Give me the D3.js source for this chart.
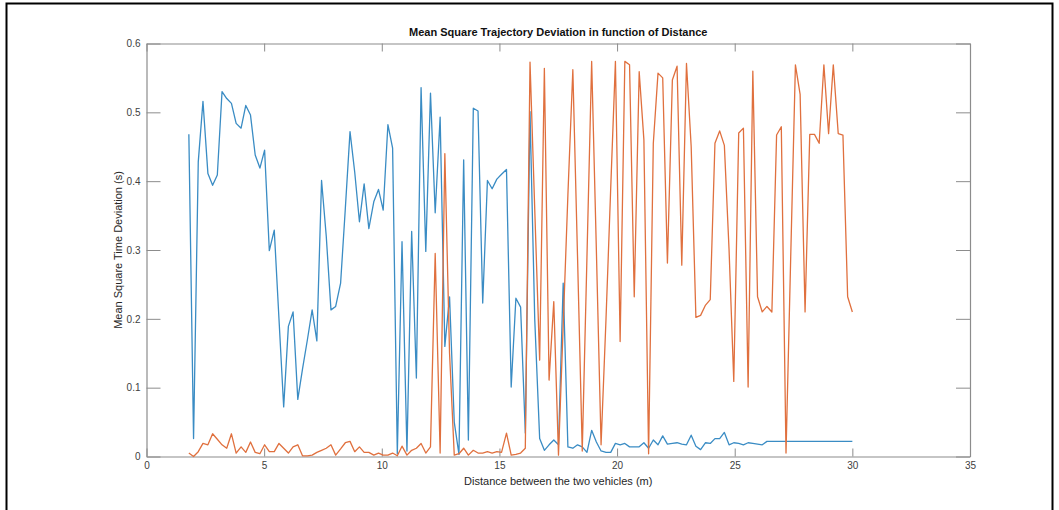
<!DOCTYPE html>
<html><head><meta charset="utf-8">
<script src="https://cdn.jsdelivr.net/npm/d3@7"></script>
<style>body{margin:0;background:#fff;} svg{display:block;}</style>
</head><body>
<svg id="c" width="1059" height="510"></svg>
<script>
const distance = [1.80,2.00,2.20,2.40,2.61,2.81,3.01,3.21,3.41,3.61,3.81,4.02,4.22,4.42,4.62,4.82,5.02,5.22,5.43,5.63,
5.83,6.03,6.23,6.43,6.63,6.84,7.04,7.24,7.44,7.64,7.84,8.04,8.25,8.45,8.65,8.85,9.05,9.25,9.45,9.66,
9.86,10.06,10.26,10.46,10.66,10.86,11.07,11.27,11.47,11.67,11.87,12.07,12.27,12.48,12.68,12.88,13.08,13.28,13.48,13.68,
13.89,14.09,14.29,14.49,14.69,14.89,15.09,15.30,15.50,15.70,15.90,16.10,16.30,16.50,16.71,16.91,17.11,17.31,17.51,17.71,
17.91,18.12,18.32,18.52,18.72,18.92,19.12,19.32,19.53,19.73,19.93,20.13,20.33,20.53,20.73,20.94,21.14,21.34,21.54,21.74,
21.94,22.14,22.35,22.55,22.75,22.95,23.15,23.35,23.55,23.76,23.96,24.16,24.36,24.56,24.76,24.96,25.17,25.37,25.57,25.77,
25.97,26.17,26.37,26.58,26.78,26.98,27.18,27.38,27.58,27.78,27.99,28.19,28.39,28.59,28.79,28.99,29.19,29.40,29.60,29.80,30.00];

const seriesBlue = [0.468,0.026,0.428,0.516,0.411,0.394,0.409,0.530,0.520,0.513,0.484,0.477,0.510,0.496,0.438,0.419,0.445,0.299,0.329,0.200,
0.072,0.189,0.210,0.083,0.127,0.170,0.213,0.168,0.401,0.320,0.213,0.218,0.252,0.360,0.472,0.413,0.341,0.396,0.331,0.370,
0.388,0.358,0.482,0.448,0.004,0.312,0.008,0.327,0.114,0.536,0.298,0.528,0.354,0.493,0.160,0.232,0.050,0.003,0.431,0.024,
0.506,0.502,0.223,0.401,0.389,0.403,0.410,0.417,0.101,0.230,0.217,0.034,0.501,0.200,0.026,0.009,0.017,0.024,0.017,0.252,
0.014,0.012,0.017,0.014,0.006,0.038,0.021,0.008,0.006,0.006,0.019,0.017,0.019,0.014,0.014,0.014,0.020,0.012,0.024,0.017,
0.030,0.018,0.019,0.020,0.018,0.017,0.031,0.015,0.010,0.020,0.019,0.026,0.026,0.035,0.017,0.020,0.019,0.017,0.020,0.019,
0.018,0.017,0.022,0.022,0.022,0.022,0.022,0.022,0.022,0.022,0.022,0.022,0.022,0.022,0.022,0.022,0.022,0.022,0.022,0.022,0.022];

const seriesOrange = [0.005,0.000,0.007,0.019,0.017,0.033,0.025,0.017,0.012,0.033,0.005,0.014,0.006,0.021,0.006,0.004,0.017,0.007,0.007,0.019,
0.012,0.005,0.014,0.017,0.001,0.001,0.002,0.006,0.009,0.012,0.017,0.002,0.011,0.020,0.022,0.007,0.014,0.006,0.006,0.002,
0.005,0.002,0.002,0.005,0.001,0.015,0.002,0.009,0.012,0.019,0.005,0.014,0.295,0.005,0.440,0.150,0.002,0.004,0.012,0.002,
0.009,0.005,0.005,0.007,0.005,0.007,0.006,0.034,0.002,0.003,0.005,0.012,0.573,0.360,0.140,0.564,0.111,0.225,0.002,0.190,
0.380,0.562,0.290,0.008,0.290,0.574,0.300,0.017,0.200,0.390,0.574,0.167,0.574,0.569,0.232,0.559,0.460,0.004,0.455,0.557,
0.550,0.281,0.547,0.567,0.278,0.571,0.450,0.202,0.205,0.220,0.228,0.455,0.473,0.452,0.300,0.109,0.470,0.477,0.101,0.560,
0.232,0.210,0.218,0.210,0.467,0.479,0.005,0.290,0.569,0.526,0.210,0.468,0.468,0.455,0.569,0.469,0.569,0.469,0.467,0.232,0.210];

const xTicks = [0,5,10,15,20,25,30,35];
const yTicks = [0,0.1,0.2,0.3,0.4,0.5,0.6];
const titleText = "Mean Square Trajectory Deviation in function of Distance";
const xLabelText = "Distance between the two vehicles (m)";
const yLabelText = "Mean Square Time Deviation (s)";

const svg = d3.select("#c");
const L = 146.5, R = 970, T = 43.5, B = 456.5;
const x = d3.scaleLinear().domain([0,35]).range([L,R]);
const y = d3.scaleLinear().domain([0,0.6]).range([B,T]);
const font = "'Liberation Sans', Arial, Helvetica, sans-serif";

// outer frame
svg.append("rect").attr("x",6.5).attr("y",3.5).attr("width",1046).attr("height",520)
  .attr("fill","none").attr("stroke","#000").attr("stroke-width",2);

// axes
const axCol = "#8c8c8c", txtCol = "#404040";
const gB = svg.append("g").attr("transform",`translate(0,${B})`)
  .call(d3.axisBottom(x).tickValues(xTicks).tickSizeInner(-8).tickSizeOuter(0).tickPadding(6).tickFormat(d3.format("d")));
const gT = svg.append("g").attr("transform",`translate(0,${T})`)
  .call(d3.axisTop(x).tickValues(xTicks).tickSizeInner(-8).tickSizeOuter(0).tickFormat(""));
const gL = svg.append("g").attr("transform",`translate(${L},0)`)
  .call(d3.axisLeft(y).tickValues(yTicks).tickSizeInner(-14).tickSizeOuter(0).tickPadding(6).tickFormat(d => d===0?"0":d3.format(".1f")(d)));
const gR = svg.append("g").attr("transform",`translate(${R},0)`)
  .call(d3.axisRight(y).tickValues(yTicks).tickSizeInner(-14).tickSizeOuter(0).tickFormat(""));
[gB,gT,gL,gR].forEach(g => {
  g.select(".domain").attr("stroke",axCol).attr("stroke-width",1.2);
  g.selectAll(".tick line").attr("stroke",axCol).attr("stroke-width",1);
  g.selectAll(".tick text").attr("fill",txtCol).attr("font-family",font).attr("font-size",10);
});
gB.selectAll(".tick text").attr("dy","0.6em");

// lines
const line = d3.line().x((d,i)=>x(distance[i])).y(d=>y(d));
svg.append("path").datum(seriesBlue).attr("d",line).attr("fill","none")
  .attr("stroke","#3a8cc4").attr("stroke-width",1.3).attr("stroke-linejoin","round");
svg.append("path").datum(seriesOrange).attr("d",line).attr("fill","none")
  .attr("stroke","#e0703e").attr("stroke-width",1.3).attr("stroke-linejoin","round");

// texts
svg.append("text").attr("x",(L+R)/2).attr("y",36).attr("text-anchor","middle")
  .attr("font-family",font).attr("font-size",11).attr("font-weight","bold").attr("fill","#111").text(titleText);
svg.append("text").attr("x",(L+R)/2).attr("y",485).attr("text-anchor","middle")
  .attr("font-family",font).attr("font-size",11).attr("fill","#262626").text(xLabelText);
svg.append("text").attr("transform",`translate(122,${(T+B)/2}) rotate(-90)`).attr("text-anchor","middle")
  .attr("font-family",font).attr("font-size",11).attr("fill","#262626").text(yLabelText);
</script>
</body></html>
